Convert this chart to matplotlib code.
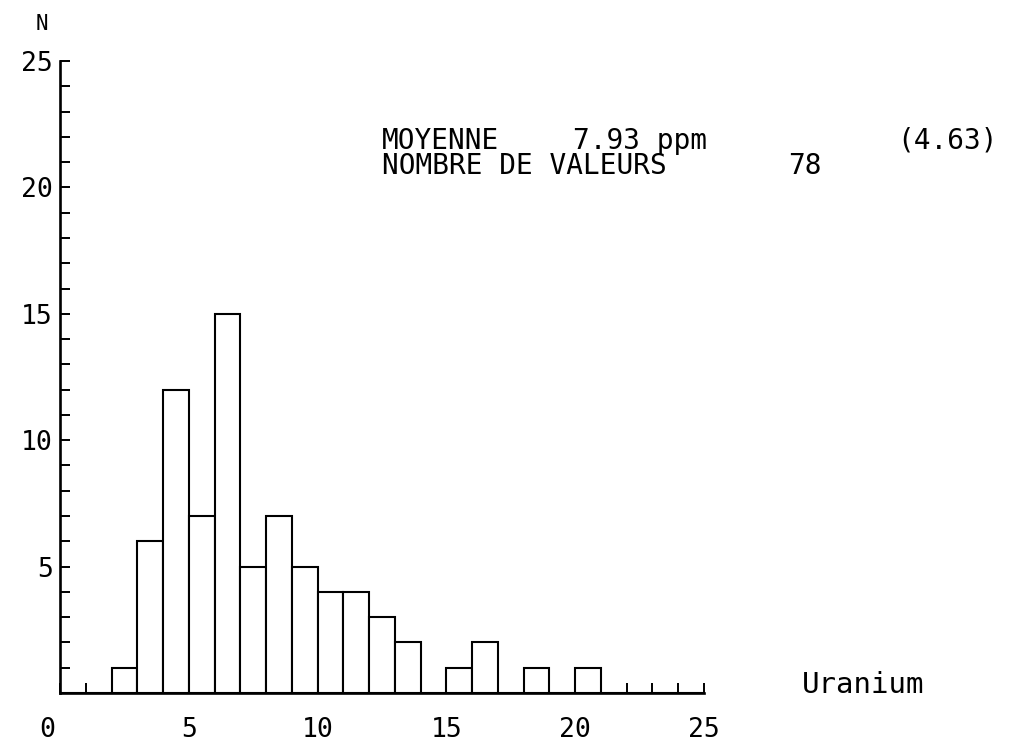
import numpy as np
import matplotlib.pyplot as plt
from matplotlib.transforms import ScaledTranslation

# ============================================================
# DATA
# ============================================================

BIN_LEFT = list(range(25))          # 1 ppm bins, 0 .. 25
COUNTS   = [0, 0, 1, 6, 12, 7, 15, 5, 7, 5, 4, 4, 3, 2, 0, 1, 2, 0, 1, 0, 1, 0, 0, 0, 0]

X_LABELS = ["0", "5", "10", "15", "20", "25"]
Y_LABELS = ["5", "10", "15", "20", "25"]

MEAN_LBL  = "MOYENNE"
MEAN_VAL  = "7.93 ppm"
SD_TXT    = "(4.63)"
COUNT_LBL = "NOMBRE DE VALEURS"
COUNT_VAL = "78"
XNAME     = "Uranium"
YNAME     = "N"

# ============================================================
# FIGURE
# ============================================================

W, H = 1021, 744
plt.rcParams["font.family"] = ["DejaVu Sans Mono", "DejaVu Sans"]

fig = plt.figure(figsize=(W / 100, H / 100), dpi=100)
ax = fig.add_axes([60 / W, (H - 693) / H, 644 / W, 632 / H])

ax.bar(BIN_LEFT, COUNTS, width=1.0, align="edge",
       facecolor="white", edgecolor="black", linewidth=1.5)

ax.set_xlim(0, 25)
ax.set_ylim(0, 25)

for side in ("top", "right"):
    ax.spines[side].set_visible(False)
for side in ("left", "bottom"):
    ax.spines[side].set_linewidth(1.9)

# every integer gets a short inward tick, labels every 5
xt = np.arange(0, 26)
ax.set_xticks(xt)
ax.set_xticklabels([X_LABELS[i // 5] if i % 5 == 0 else "" for i in xt])
yt = np.arange(1, 26)
ax.set_yticks(yt)
ax.set_yticklabels([Y_LABELS[i // 5 - 1] if i % 5 == 0 else "" for i in yt])

ax.tick_params(axis="x", direction="in", length=7, width=1.4,
               labelsize=19, pad=17)
ax.tick_params(axis="y", direction="in", length=7, width=1.4,
               labelsize=19, pad=5)

# the "0" sits a bit left of the corner on the original plot
lbl0 = ax.get_xticklabels()[0]
lbl0.set_transform(lbl0.get_transform() + ScaledTranslation(-0.13, 0, fig.dpi_scale_trans))

# ============================================================
# Annotations (pixel positions from the scan)
# ============================================================

def put(px, py, s, size, ha="left"):
    fig.text(px / W, 1 - py / H, s, fontsize=size, ha=ha, va="center")

put(382, 141, MEAN_LBL, 20)
put(573, 141, MEAN_VAL, 20)
put(897, 141, SD_TXT, 20)
put(382, 166, COUNT_LBL, 20)
put(788, 166, COUNT_VAL, 20)
put(802, 685, XNAME, 21)
put(42, 24, YNAME, 15, ha="center")

fig.savefig("out.png", dpi=100, facecolor="white")
